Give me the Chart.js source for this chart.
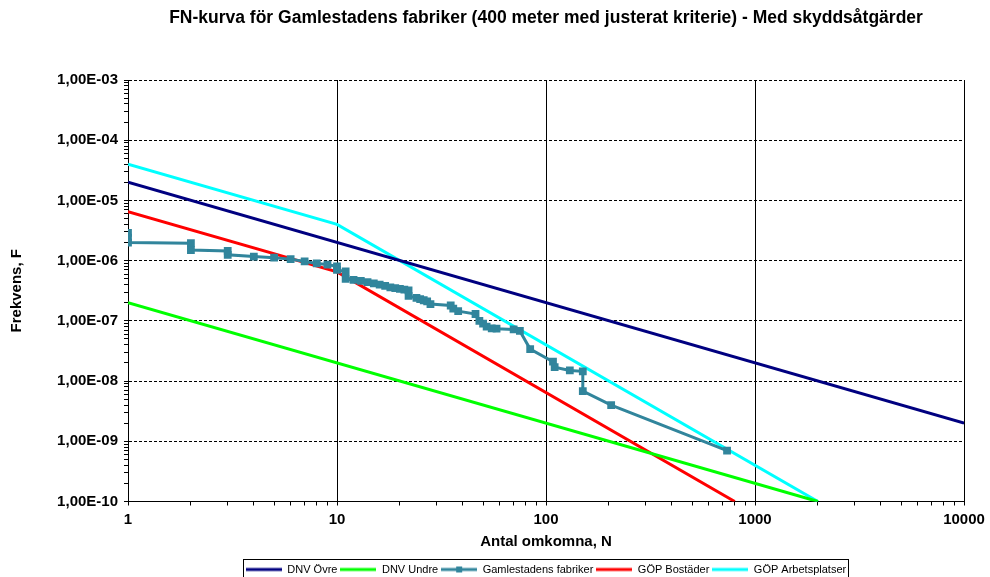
<!DOCTYPE html>
<html>
<head>
<meta charset="utf-8">
<script src="https://cdn.jsdelivr.net/npm/chart.js@4/dist/chart.umd.min.js"></script>
<style>
	html, body { margin: 0; padding: 0; background: #fff; }
	#wrap { width: 990px; height: 577px; }
</style>
</head>
<body>
<div id="wrap"><canvas id="fn"></canvas></div>
<script>
// reference lines
var dnvOvreN = [1, 10000];
var dnvOvreF = [2e-5, 2e-9];
var dnvUndreN = [1, 2000];
var dnvUndreF = [2e-7, 1e-10];
var gopBostN = [1, 10, 800];
var gopBostF = [6.5e-6, 6.5e-7, 1e-10];
var gopArbN = [1, 10, 2000];
var gopArbF = [4e-5, 4e-6, 1e-10];

// FN curve
var gamN = [1, 1, 1, 2, 2, 3, 3, 4, 5, 6, 7, 8, 9, 10, 10, 11, 11, 12, 13, 14, 15, 16, 17, 18, 19, 20, 21, 22, 22,
	24, 25, 26, 27, 28, 35, 36, 38, 46, 48, 50, 52, 55, 58, 70, 75, 84, 108, 110, 130, 150, 150, 205, 735];
var gamF = [2.9e-6, 2.4e-6, 2.0e-6, 1.95e-6, 1.5e-6, 1.45e-6, 1.25e-6, 1.17e-6, 1.12e-6, 1.06e-6, 0.97e-6, 0.9e-6,
	0.86e-6, 0.8e-6, 0.7e-6, 0.66e-6, 0.5e-6, 0.48e-6, 0.46e-6, 0.44e-6, 0.42e-6, 0.4e-6, 0.38e-6, 0.36e-6, 0.35e-6,
	0.34e-6, 0.33e-6, 0.32e-6, 0.26e-6, 0.24e-6, 0.23e-6, 0.22e-6, 0.21e-6, 0.19e-6, 0.18e-6, 0.16e-6, 0.145e-6,
	0.13e-6, 0.1e-6, 0.09e-6, 0.08e-6, 0.075e-6, 0.074e-6, 0.072e-6, 0.068e-6, 3.4e-8, 2.1e-8, 1.7e-8, 1.5e-8,
	1.45e-8, 6.8e-9, 4.0e-9, 7.0e-10];

var xTicks = [1, 10, 100, 1000, 10000];
var yTicks = [1e-10, 1e-9, 1e-8, 1e-7, 1e-6, 1e-5, 1e-4, 1e-3];

function pts(xs, ys) {
	return xs.map(function(x, i) { return {x: x, y: ys[i]}; });
}

function isDecade(v) {
	var e = Math.log10(v);
	return Math.abs(e - Math.round(e)) < 1e-9;
}

// every 1..9 step inside each decade, labels only on decades
function withMinor(decades) {
	var out = [];
	for (var i = 0; i < decades.length; i++) {
		out.push({value: decades[i], major: true});
		if (i < decades.length - 1) {
			for (var k = 2; k <= 9; k++) out.push({value: decades[i] * k, major: false});
		}
	}
	return out;
}

function sciLabel(v) {
	var e = Math.round(Math.log10(v));
	var s = String(Math.abs(e));
	if (s.length < 2) s = '0' + s;
	return '1,00E' + (e < 0 ? '-' : '+') + s;
}

function legendSample(color, marker) {
	var c = document.createElement('canvas');
	c.width = 36; c.height = 8;
	var g = c.getContext('2d');
	g.strokeStyle = color;
	g.lineWidth = 3;
	g.beginPath(); g.moveTo(0, 4); g.lineTo(36, 4); g.stroke();
	if (marker) {
		g.fillStyle = color;
		g.fillRect(15, 1, 6, 6);
	}
	return c;
}

var fontName = "'Liberation Sans', Arial, sans-serif";

var legendFrame = {
	id: 'legendFrame',
	afterDraw: function(chart) {
		var boxes = chart.legend && chart.legend.legendHitBoxes;
		if (!boxes || !boxes.length) return;
		var l = Infinity, r = -Infinity, t = Infinity;
		boxes.forEach(function(b) {
			l = Math.min(l, b.left);
			r = Math.max(r, b.left + b.width);
			t = Math.min(t, b.top);
		});
		var ctx = chart.ctx;
		ctx.save();
		ctx.strokeStyle = '#000';
		ctx.lineWidth = 1;
		ctx.strokeRect(Math.round(l - 3) + 0.5, Math.round(t - 5) + 0.5, Math.round(r - l + 5), 40);
		ctx.restore();
	}
};

new Chart(document.getElementById('fn'), {
	type: 'scatter',
	data: {
		datasets: [
			{
				label: 'DNV Övre',
				data: pts(dnvOvreN, dnvOvreF),
				borderColor: '#000080', backgroundColor: '#000080',
				showLine: true, borderWidth: 3, pointRadius: 0
			},
			{
				label: 'DNV Undre',
				data: pts(dnvUndreN, dnvUndreF),
				borderColor: '#00FF00', backgroundColor: '#00FF00',
				showLine: true, borderWidth: 3, pointRadius: 0
			},
			{
				label: 'Gamlestadens fabriker',
				data: pts(gamN, gamF),
				borderColor: '#31859C', backgroundColor: '#31859C',
				showLine: true, borderWidth: 3,
				pointStyle: 'rect', pointRadius: 5.5, pointBorderWidth: 0
			},
			{
				label: 'GÖP Bostäder',
				data: pts(gopBostN, gopBostF),
				borderColor: '#FF0000', backgroundColor: '#FF0000',
				showLine: true, borderWidth: 3, pointRadius: 0
			},
			{
				label: 'GÖP Arbetsplatser',
				data: pts(gopArbN, gopArbF),
				borderColor: '#00FFFF', backgroundColor: '#00FFFF',
				showLine: true, borderWidth: 3, pointRadius: 0
			}
		]
	},
	options: {
		responsive: true,
		maintainAspectRatio: false,
		animation: false,
		layout: { padding: { left: 0, right: 26, top: 0, bottom: -8 } },
		scales: {
			x: {
				type: 'logarithmic',
				min: 1, max: 10000,
				afterBuildTicks: function(s) { s.ticks = withMinor(xTicks); },
				afterFit: function(s) { s.height = 59.5; },
				ticks: {
					autoSkip: false, maxRotation: 0, padding: 5,
					color: '#000',
					font: { family: fontName, size: 15, weight: 'bold' },
					callback: function(v) { return isDecade(v) ? String(Math.round(v)) : ''; }
				},
				grid: {
					color: function(c) { return c.tick && c.tick.major ? '#000' : 'rgba(0,0,0,0)'; },
					tickColor: '#000',
					tickLength: 4,
					lineWidth: 1
				},
				border: { color: '#000', width: 1 },
				title: {
					display: true, text: 'Antal omkomna, N', color: '#000',
					font: { family: fontName, size: 15, weight: 'bold' },
					padding: { top: 4, bottom: 10 }
				}
			},
			y: {
				type: 'logarithmic',
				min: 1e-10, max: 1e-3,
				afterBuildTicks: function(s) { s.ticks = withMinor(yTicks); },
				afterFit: function(s) { s.width = 128; },
				ticks: {
					autoSkip: false, padding: 6,
					color: '#000',
					font: { family: fontName, size: 15, weight: 'bold' },
					callback: function(v) { return isDecade(v) ? sciLabel(v) : ''; }
				},
				grid: {
					color: function(c) { return c.tick && c.tick.major ? '#000' : 'rgba(0,0,0,0)'; },
					tickColor: '#000',
					tickLength: 4,
					lineWidth: 1
				},
				border: { color: '#000', width: 1, dash: [3, 2] },
				title: {
					display: true, text: 'Frekvens, F', color: '#000',
					font: { family: fontName, size: 15, weight: 'bold' },
					padding: { top: 8, bottom: 0 }
				}
			}
		},
		plugins: {
			title: {
				display: true,
				fullSize: false,
				text: 'FN-kurva för Gamlestadens fabriker (400 meter med justerat kriterie) - Med skyddsåtgärder',
				color: '#000',
				font: { family: fontName, size: 17.5, weight: 'bold' },
				padding: { top: 8, bottom: 51 }
			},
			legend: {
				position: 'bottom',
				fullSize: false,
				labels: {
					color: '#000',
					font: { family: fontName, size: 11 },
					usePointStyle: true,
					pointStyleWidth: 36,
					padding: 3,
					generateLabels: function(chart) {
						return chart.data.datasets.map(function(d, i) {
							return {
								text: d.label,
								pointStyle: legendSample(d.borderColor, i === 2),
								fillStyle: d.borderColor,
								strokeStyle: d.borderColor,
								lineWidth: 0,
								datasetIndex: i,
								fontColor: '#000'
							};
						});
					}
				}
			},
			tooltip: { enabled: false }
		}
	},
	plugins: [legendFrame]
});
</script>
</body>
</html>
